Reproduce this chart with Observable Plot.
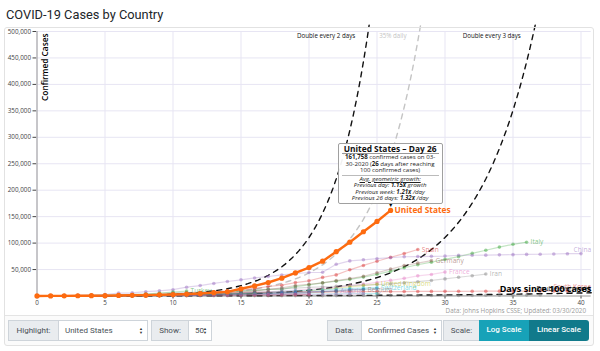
<!DOCTYPE html>
<html><head><meta charset="utf-8">
<script src="https://cdn.jsdelivr.net/npm/d3@7"></script>
<script src="https://cdn.jsdelivr.net/npm/@observablehq/plot@0.6"></script>
<style>
html,body{margin:0;padding:0;background:#fff}
body{width:600px;height:351px;position:relative;overflow:hidden;font-family:Roboto,"Open Sans",sans-serif}
#title{position:absolute;left:6px;top:7px;font-size:12.8px;color:#212529;font-family:Roboto,sans-serif;white-space:nowrap}
#footer{position:absolute;left:5px;top:315px;width:588px;height:30px;border-top:1px solid #e4e4e4;background:#fbfbfb}
#chart{position:absolute;left:0;top:0}
#card{position:absolute;left:4px;top:27px;width:590px;height:319px;border:1px solid #e2e2e2;border-radius:3px;box-sizing:border-box;pointer-events:none}
#source{position:absolute;right:14px;top:306px;font-size:6.3px;color:#9a9a9a;font-family:"Open Sans",sans-serif;white-space:nowrap}
.ctl{position:absolute;top:320px;height:21px;box-sizing:border-box;font-size:8px;line-height:19px;border:1px solid #ced4da;font-family:Roboto,sans-serif;color:#495057;white-space:nowrap}
.addon{background:#e9ecef;text-align:center}
.sel{background:#fff;padding-left:6px}
.arr{position:absolute;right:4px;top:6px;font-size:4px;line-height:3.5px;color:#333;text-align:center}
.btn{color:#fff;text-align:center;border:none;font-weight:500}
#tip{position:absolute;background:rgba(255,255,255,0.94);border:1px solid #a0a0a0;border-radius:2px;box-sizing:border-box;width:105px;font-family:"Open Sans",sans-serif;color:#222;text-align:center;padding:0 3px 1px 3px}
#tip .t{font-weight:700;font-size:8.4px;line-height:9.5px;border-bottom:1px solid #999;color:#111}
#tip .b{font-size:6.1px;line-height:6.5px;padding:0 0 1px 0;border-bottom:1px solid #bbb}
#tip .g{font-size:6.1px;line-height:6.5px;font-style:italic}
</style></head><body>
<div id="title">COVID-19 Cases by Country</div>
<div id="footer"></div>
<div id="chart"></div>
<div id="card"></div>
<div id="source">Data: Johns Hopkins CSSE; Updated: 03/30/2020</div>
<div id="tip"></div>
<div class="ctl addon" style="left:8px;width:51px">Highlight:</div>
<div class="ctl sel" style="left:58px;width:90px">United States<div class="arr">▲<br>▼</div></div>
<div class="ctl addon" style="left:151px;width:38px">Show:</div>
<div class="ctl sel" style="left:188px;width:24px">50<div class="arr">▲<br>▼</div></div>
<div class="ctl addon" style="left:327px;width:35px">Data:</div>
<div class="ctl sel" style="left:361px;width:81px">Confirmed Cases<div class="arr">▲<br>▼</div></div>
<div class="ctl addon" style="left:443px;width:37px">Scale:</div>
<div class="ctl btn" style="left:479px;width:50px;background:#17a2b8;border-radius:0">Log Scale</div>
<div class="ctl btn" style="left:529px;width:60px;background:#117a8b;border-radius:0 3px 3px 0">Linear Scale</div>
<script>
// ---------- data: confirmed cases by days since 100 cases ----------
const highlightName = "United States";
const highlightDate = "03-30-2020";
const usCases = [124,221,319,435,541,704,994,1301,1630,2183,2770,3613,4596,6344,7869,13680,19101,25493,33746,43667,53740,65778,83836,101657,121478,140886,161758];
const italyCases = [155,229,322,453,655,888,1128,1694,2036,2502,3089,3858,4636,5883,7375,9172,10149,12462,12462,17660,21157,24747,27980,31506,35713,41035,47021,53578,59138,63927,69176,74386,80589,86498,92472,97689,101739];
const spainCases = [120,165,222,259,400,500,673,1073,1695,2277,2277,5232,6391,7798,9942,11748,13910,17963,20410,25374,28768,35136,39885,49515,57786,65719,73235,80110,87956];
const germanyCases = [130,159,196,262,482,670,799,1040,1176,1457,1908,2078,3675,4585,5795,7272,9257,12327,15320,19848,22213,24873,29056,32986,37323,43938,50871,57695,62095,66885];
const franceCases = [100,130,191,204,288,380,656,959,1136,1219,1794,2293,2293,3681,4496,4532,6683,7715,9124,10970,12758,14463,16243,20123,22622,25600,29551,33402,38105,40708,45170];
const iranCases = [139,245,388,593,978,1501,2336,2922,3513,4747,5823,6566,7161,8042,9000,10075,11364,12729,13938,14991,16169,17361,18407,19644,20610,21638,23049,24811,27017,29406,32332,35408,38309,41495];
const chinaCases = [548,643,920,1406,2075,2877,5509,6087,8141,9802,11891,16630,19716,23707,27440,30587,34110,36814,39829,42354,44386,44759,59895,66358,68413,70513,72434,74211,74619,75077,75550,77001,77022,77241,77754,78166,78600,78928,79356,79932,80136];
const ukCases = [116,164,207,274,322,384,459,459,802,1144,1145,1551,1960,2642,2716,4014,5067,5745,6726,8164,9640,11812,14745,17312,19780,22453];
const switzerlandCases = [114,214,268,337,374,491,652,652,1139,1359,2200,2200,2700,3028,4075,5294,6575,7474,8795,9877,10897,11811,12928,14076,14829,15922];
const southKoreaCases = [104,204,433,602,833,977,1261,1766,2337,3150,3736,4335,5186,5621,6088,6593,7041,7314,7478,7513,7755,7869,7979,8086,8162,8236,8320,8413,8565,8652,8799,8897,8961,9037,9137,9241,9332,9478,9583,9661];
const austriaCases = [104,131,182,246,302,504,655,860,1018,1332,1646,2013,2388,2814,3582,4474,5283,5588,6909,7657,8271,8788,9618];
const belgiumCases = [109,169,200,239,267,314,314,559,689,886,1058,1243,1486,1795,2257,2815,3401,3743,4269,4937,6235,7284,9134,10836,11899];
const turkeyCases = [192,359,670,947,1236,1529,1872,2433,3629,5698,7402,9217];
const netherlandsCases = [128,188,265,321,382,503,503,806,962,1138,1416,1711,2058,2467,3003,3640,4217,4764,5580,6438,7468,8647,9819,11817,12667,13614];
const canadaCases = [108,117,193,198,252,415,478,657,800,943,1277,1469,2088,2790,3251,4042,4682,5576,6280,7398];
const portugalCases = [112,169,245,331,448,448,785,1020,1280,1600,2060,2362,2995,3544,4268,5170,5962,6408];
const norwayCases = [108,147,176,205,400,598,702,996,1090,1221,1333,1463,1550,1746,1914,2118,2385,2621,2863,3084,3369,3755,4015,4284,4445,4641];
const swedenCases = [101,161,203,248,355,500,599,814,961,1022,1103,1190,1279,1439,1639,1763,1934,2046,2286,2526,2840,3069,3447,3700,4028];
const brazilCases = [151,162,200,321,372,621,793,1021,1546,1924,2247,2554,2985,3417,3904,4256,4579];
const japanCases = [105,132,144,164,186,210,230,239,254,268,284,317,349,408,455,488,514,568,619,639,639,701,773,839,825,878,889,924,963,1007,1086,1128,1193,1307,1387,1468,1693,1866];
const denmarkCases = [264,444,617,804,836,875,933,1025,1116,1225,1337,1420,1514,1572,1718,1862,2023,2200,2366,2564,2755];
const israelCases = [143,200,250,304,427,529,712,883,1071,1238,2369,2693,3035,3619,4247,4695,5358];
const australiaCases = [107,128,128,200,250,297,377,452,568,681,791,1071,1549,1682,2044,2364,2810,3143,3640,3984,4361];

const otherNames = ["Italy","Spain","Germany","France","Iran","China","United Kingdom","Switzerland","South Korea","Austria","Belgium","Turkey","Netherlands","Canada","Portugal","Norway","Sweden","Brazil","Japan","Denmark","Israel","Australia"];
const otherSeries = [italyCases,spainCases,germanyCases,franceCases,iranCases,chinaCases,ukCases,switzerlandCases,southKoreaCases,austriaCases,belgiumCases,turkeyCases,netherlandsCases,canadaCases,portugalCases,norwayCases,swedenCases,brazilCases,japanCases,denmarkCases,israelCases,australiaCases];
const labelledNames = ["Italy","Spain","Germany","France","Iran","United Kingdom","Switzerland","Austria","Belgium","Turkey"];
const edgeLabelledNames = ["China","South Korea"];

const guideNames = ["Double every 2 days","35% daily","Double every 3 days","Double every week"];
const guideDailyGrowth = [Math.pow(2,1/2), 1.35, Math.pow(2,1/3), Math.pow(2,1/7)];
const guideStart = 108;

const xTicks = [0,5,10,15,20,25,30,35,40];
const yTicks = [50000,100000,150000,200000,250000,300000,350000,400000,450000,500000];
const xMax = 40.75, yMax = 500000;

// ---------- styles ----------
const colorOf = {"United States":"#fd6b10",Italy:"#2ca02c",Spain:"#d62728",Germany:"#8c564b",France:"#e377c2",Iran:"#7f7f7f",China:"#9467bd","United Kingdom":"#bcbd22",Switzerland:"#17becf","South Korea":"#d62728",Austria:"#9467bd",Belgium:"#8c564b",Turkey:"#2ca02c",Netherlands:"#1f77b4",Canada:"#1f77b4",Portugal:"#8c564b",Norway:"#17becf",Sweden:"#e377c2",Brazil:"#bcbd22",Japan:"#7f7f7f",Denmark:"#d62728",Israel:"#1f77b4",Australia:"#9467bd"};
const guideColor = {"Double every 2 days":"#111","35% daily":"#c4c4c4","Double every 3 days":"#111","Double every week":"#111"};

// ---------- tables ----------
const toRows = (name, arr) => arr.map((c,i)=>({name, day:i, cases:c})).filter(d=>d.day<=xMax);
const others = otherNames.flatMap((n,i)=>toRows(n, otherSeries[i]));
const us = toRows(highlightName, usCases);
const lastOf = n => { const r = others.filter(d=>d.name===n); return r[r.length-1]; };
const labelRows = labelledNames.map(lastOf);
const edgeRows = edgeLabelledNames.map(lastOf);
const usLast = us[us.length-1];

const guides = [];
const guideTops = [];
guideNames.forEach((g,i)=>{
  const k = guideDailyGrowth[i];
  const topDay = Math.log(512000/guideStart)/Math.log(k);
  const end = Math.min(topDay, xMax);
  for (let d=0; d<end; d+=0.25) guides.push({guide:g, day:d, cases:guideStart*Math.pow(k,d)});
  guides.push({guide:g, day:end, cases:guideStart*Math.pow(k,end)});
  const labDay = Math.log(yMax/guideStart)/Math.log(k);
  if (labDay <= xMax) guideTops.push({guide:g, day:labDay, cases:yMax});
});
const weekEnd = guides.filter(d=>d.guide==="Double every week").slice(-1);

const chart = Plot.plot({
  width:600, height:310,
  marginLeft:36.5, marginRight:9.3, marginTop:31, marginBottom:14.5,
  style:{background:"transparent", fontFamily:"'Open Sans',sans-serif", fontSize:"6.3px", color:"#444", overflow:"visible"},
  x:{domain:[0,xMax], ticks:xTicks, tickSize:3, tickPadding:2, label:null},
  y:{domain:[0,yMax], ticks:yTicks, tickFormat:d3.format(","), tickSize:4, tickPadding:2, label:null},
  color:{type:"identity"},
  marks:[
    Plot.ruleX(xTicks,{stroke:"#e7e5f3", strokeWidth:1}),
    Plot.ruleY(yTicks,{stroke:"#e7e5f3", strokeWidth:1}),
    Plot.ruleX([0],{stroke:"#9a9a9a"}),
    Plot.ruleY([0],{stroke:"#9a9a9a"}),
    Plot.line(guides,{x:"day", y:"cases", z:"guide", stroke:d=>guideColor[d.guide], strokeWidth:1.4, strokeDasharray:"5,5", curve:"linear"}),
    Plot.text(guideTops,{x:"day", y:"cases", text:"guide", fill:d=>guideColor[d.guide], textAnchor:"end", dx:-13, dy:5, fontSize:6.2}),
    Plot.line(others,{x:"day", y:"cases", z:"name", stroke:d=>colorOf[d.name], strokeOpacity:0.28, strokeWidth:1.2}),
    Plot.dot(others,{x:"day", y:"cases", r:1.8, fill:d=>colorOf[d.name], fillOpacity:0.45}),
    Plot.text(labelRows,{x:"day", y:"cases", text:"name", fill:d=>colorOf[d.name], fillOpacity:0.6, textAnchor:"start", dx:4, fontSize:6.6}),
    Plot.text(edgeRows,{frameAnchor:"right", y:"cases", text:"name", fill:d=>colorOf[d.name], fillOpacity:0.55, textAnchor:"end", dx:0, dy:-4, fontSize:6.6}),
    Plot.text(weekEnd,{frameAnchor:"right", y:"cases", text:"guide", fill:"#111", textAnchor:"end", dy:-4, fontSize:6.2}),
    Plot.text(["Days since 100 cases"],{frameAnchor:"bottom-right", text:d=>d, textAnchor:"end", dy:-4, fontSize:9, fontWeight:"bold", fill:"#000"}),
    Plot.text(["Confirmed Cases"],{frameAnchor:"top-left", text:d=>d, rotate:-90, textAnchor:"end", dx:5, dy:2, fontSize:8.3, fontWeight:600, fill:"#000"}),
    Plot.line(us,{x:"day", y:"cases", stroke:colorOf[highlightName], strokeWidth:2.4}),
    Plot.dot(us,{x:"day", y:"cases", r:2.6, fill:colorOf[highlightName]}),
    Plot.text([usLast],{x:"day", y:"cases", text:"name", fill:colorOf[highlightName], fontWeight:"bold", fontSize:8.3, textAnchor:"start", dx:4}),
    Plot.text([usLast],{x:"day", y:"cases", text:()=>"▼", fill:"#000", fontSize:5.5, dy:-5})
  ]
});
document.getElementById("chart").appendChild(chart);

// ---------- tooltip ----------
const n = usLast.day;
const prevDay = usCases[n]/usCases[n-1];
const prevWeek = Math.pow(usCases[n]/usCases[n-7], 1/7);
const prevAll = Math.pow(usCases[n]/usCases[0], 1/n);
const fmt = d3.format(",");
const tip = document.getElementById("tip");
tip.innerHTML =
  `<div class="t">${highlightName} – Day ${n}</div>` +
  `<div class="b"><b>${fmt(usCases[n])}</b> confirmed cases on ${highlightDate} (<b>${n}</b> days after reaching 100 confirmed cases)</div>` +
  `<div class="g"><u>Avg. geometric growth:</u><br>Previous day: <b>${prevDay.toFixed(2)}x</b> growth<br>Previous week: <b>${prevWeek.toFixed(2)}x</b> /day<br>Previous ${n} days: <b>${prevAll.toFixed(2)}x</b> /day</div>`;
const sx = chart.scale("x"), sy = chart.scale("y");
const lin = s => s.apply ? (v=>s.apply(v)) : (v=>s.range[0]+(v-s.domain[0])/(s.domain[1]-s.domain[0])*(s.range[1]-s.range[0]));
const px = lin(sx)(n), py = lin(sy)(usCases[n]);
tip.style.left = (px - 105/2) + "px";
tip.style.top = (py - 6 - tip.offsetHeight) + "px";
</script>
</body></html>
